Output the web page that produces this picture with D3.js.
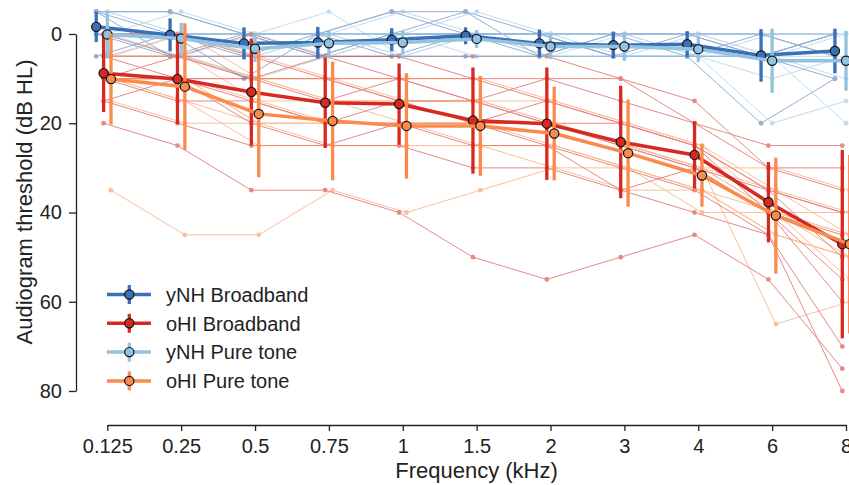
<!DOCTYPE html>
<html>
<head>
<meta charset="utf-8">
<script src="https://cdn.jsdelivr.net/npm/d3@7/dist/d3.min.js"></script>
<style>
  html, body { margin: 0; padding: 0; background: #fff; }
  svg { display: block; font-family: "Liberation Sans", Arial, Helvetica, sans-serif; }
</style>
</head>
<body>
<svg id="chart" width="849" height="485"></svg>
<script>
// Audiogram frequencies (kHz), shown as evenly spaced categories
const freqLabels = ["0.125", "0.25", "0.5", "0.75", "1", "1.5", "2", "3", "4", "6", "8"];
const yTicks = [0, 20, 40, 60, 80];

// Group means (dB HL)
const ynhBroadbandMean = [-1.6, 0.2, 2.1, 1.9, 1.3, 0.4, 2.1, 2.5, 2.3, 4.8, 3.8];
const ohiBroadbandMean = [8.8, 10.1, 13.0, 15.4, 15.7, 19.4, 20.1, 24.2, 27.1, 37.7, 47.1];
const ynhPureToneMean  = [0.1, 1.0, 3.3, 2.1, 1.9, 1.1, 2.8, 2.8, 3.4, 6.0, 6.0];
const ohiPureToneMean  = [10.1, 11.8, 17.9, 19.5, 20.6, 20.6, 22.3, 26.7, 31.7, 40.7, 47.1];

// Standard deviations (dB)
const ynhBroadbandSd = [3.4, 3.7, 3.6, 3.5, 2.6, 1.9, 3.1, 2.9, 2.9, 5.9, 5.0];
const ohiBroadbandSd = [8.7, 10.1, 12.0, 10.1, 9.1, 11.9, 12.6, 12.6, 7.5, 9.0, 21.1];
const ynhPureToneSd  = [5.0, 3.5, 3.0, 3.0, 2.6, 2.0, 2.8, 3.2, 2.9, 7.2, 6.7];
const ohiPureToneSd  = [10.2, 14.2, 14.2, 13.3, 11.8, 11.2, 10.5, 12.0, 7.0, 13.0, 20.0];

// Individual listeners' audiograms (dB HL)
const ynhBroadbandSubjects = [
  [-5, -5, 0, 0, -5, -5, 0, 0, 0, 5, 0],
  [0, 0, 5, 5, 0, 0, 5, 5, 5, 20, 10],
  [-5, 0, 0, 0, 0, 0, 0, 0, 0, 0, 0],
  [0, 5, 5, 0, 5, 0, 0, 5, 0, 0, 5],
  [-5, -5, 0, 5, 0, -5, 5, 0, 5, 5, 0],
  [5, 0, 10, 0, 0, 0, 0, 5, 5, 0, 5],
  [0, 0, 0, 5, 5, 5, 5, 0, 0, 5, 10],
  [-5, 5, 0, 0, -5, 0, 0, 5, 5, 5, 0]
];
const ynhPureToneSubjects = [
  [0, 0, 5, 5, 0, 0, 5, 5, 5, 20, 15],
  [-5, 0, 0, 0, 0, -5, 0, 0, 0, 5, 10],
  [5, 5, 5, 0, 5, 5, 5, 5, 5, 5, 5],
  [0, -5, 0, 5, 0, 0, 0, 0, 5, 0, 0],
  [-5, 0, 5, 0, 5, 0, 5, 0, 0, 5, 20],
  [0, 5, 10, 5, 0, 5, 5, 5, 5, 10, 5],
  [5, 0, 0, 0, -5, 0, 0, 5, 0, 0, 0],
  [0, 5, 0, -5, 5, 0, 0, 0, 5, 5, 0]
];
const ohiBroadbandSubjects = [
  [20, 25, 35, 35, 40, 50, 55, 50, 45, 55, 75],
  [15, 20, 25, 25, 25, 30, 30, 35, 40, 45, 80],
  [10, 10, 10, 15, 10, 15, 20, 25, 30, 40, 60],
  [5, 5, 10, 10, 10, 10, 15, 20, 25, 35, 40],
  [0, 0, 5, 5, 5, 10, 10, 15, 20, 30, 35],
  [10, 15, 15, 20, 20, 20, 15, 20, 25, 40, 55],
  [5, 5, 5, 10, 15, 15, 10, 10, 15, 30, 30],
  [15, 10, 20, 25, 20, 25, 25, 35, 30, 40, 45],
  [0, 5, 0, 5, 5, 5, 5, 10, 20, 25, 25],
  [10, 10, 15, 20, 15, 20, 25, 30, 35, 45, 70],
  [5, 10, 10, 10, 15, 20, 20, 20, 25, 35, 40],
  [10, 5, 10, 5, 10, 15, 20, 25, 30, 35, 50]
];
const ohiPureToneSubjects = [
  [35, 45, 45, 35, 40, 35, 30, 35, 35, 45, 50],
  [5, 5, 10, 15, 15, 15, 20, 25, 30, 40, 50],
  [10, 10, 15, 20, 20, 20, 20, 25, 30, 40, 45],
  [5, 5, 10, 10, 15, 15, 15, 20, 25, 35, 45],
  [0, 0, 5, 10, 10, 10, 15, 20, 25, 40, 55],
  [10, 10, 20, 20, 20, 25, 25, 30, 35, 45, 50],
  [5, 5, 15, 15, 20, 20, 20, 25, 30, 65, 60],
  [10, 10, 20, 25, 25, 25, 25, 30, 35, 40, 40],
  [5, 0, 10, 15, 15, 15, 20, 25, 30, 30, 35],
  [10, 15, 25, 25, 25, 25, 30, 30, 40, 40, 45],
  [10, 15, 20, 20, 20, 20, 20, 25, 30, 35, 40],
  [15, 20, 20, 20, 20, 20, 25, 30, 35, 45, 50]
];

const groups = [
  { name: "yNH Broadband", color: "#3a70b5", shift: -0.15, mean: ynhBroadbandMean, sd: ynhBroadbandSd, subjects: ynhBroadbandSubjects },
  { name: "oHI Broadband", color: "#d62a21", shift: -0.05, mean: ohiBroadbandMean, sd: ohiBroadbandSd, subjects: ohiBroadbandSubjects },
  { name: "yNH Pure tone", color: "#93c3e0", shift: 0.0,  mean: ynhPureToneMean,  sd: ynhPureToneSd,  subjects: ynhPureToneSubjects },
  { name: "oHI Pure tone", color: "#fb8a4d", shift: 0.05, mean: ohiPureToneMean,  sd: ohiPureToneSd,  subjects: ohiPureToneSubjects }
];

const svg = d3.select("#chart");

const x = d3.scalePoint().domain(freqLabels).range([107.3, 846]);
const y = d3.scaleLinear().domain([0, 80]).range([34, 391]);
const step = x.step();
const px = (g, i) => x(freqLabels[i]) + g.shift * step;

// Axes
const xAxis = svg.append("g")
  .attr("transform", "translate(0,425)")
  .call(d3.axisBottom(x).tickSizeInner(6).tickSizeOuter(0).tickPadding(8));
const yAxis = svg.append("g")
  .attr("transform", "translate(76,0)")
  .call(d3.axisLeft(y).tickValues(yTicks).tickSizeInner(7).tickSizeOuter(0).tickPadding(7));
[xAxis, yAxis].forEach(a => {
  a.selectAll("path.domain").attr("stroke", "#222").attr("stroke-width", 1.3);
  a.selectAll(".tick line").attr("stroke", "#222").attr("stroke-width", 1.3);
  a.selectAll(".tick text").attr("fill", "#222").style("font-size", "20px")
    .style("font-family", "'Liberation Sans', Arial, sans-serif");
});

svg.append("text")
  .attr("x", 476.5).attr("y", 478)
  .attr("text-anchor", "middle")
  .attr("fill", "#222")
  .style("font-size", "22px")
  .text("Frequency (kHz)");

svg.append("text")
  .attr("transform", "translate(32,202) rotate(-90)")
  .attr("text-anchor", "middle")
  .attr("fill", "#222")
  .style("font-size", "22px")
  .text("Audiogram threshold (dB HL)");

// Individual audiograms
const plot = svg.append("g");
groups.forEach(g => {
  const line = d3.line().x((d, i) => px(g, i)).y(d => y(d));
  const sg = plot.append("g").attr("opacity", 0.55);
  g.subjects.forEach(s => {
    sg.append("path").attr("d", line(s))
      .attr("fill", "none").attr("stroke", g.color).attr("stroke-width", 1);
    sg.selectAll(null).data(s).enter().append("circle")
      .attr("cx", (d, i) => px(g, i)).attr("cy", d => y(d))
      .attr("r", 2.4).attr("fill", g.color);
  });
});

// Group means with SD bars
groups.forEach(g => {
  const mg = plot.append("g");
  const line = d3.line().x((d, i) => px(g, i)).y(d => y(d));
  mg.selectAll(null).data(g.mean).enter().append("line")
    .attr("x1", (d, i) => px(g, i)).attr("x2", (d, i) => px(g, i))
    .attr("y1", (d, i) => y(d - g.sd[i])).attr("y2", (d, i) => y(d + g.sd[i]))
    .attr("stroke", g.color).attr("stroke-width", 3.3);
  mg.append("path").attr("d", line(g.mean))
    .attr("fill", "none").attr("stroke", g.color).attr("stroke-width", 3.5)
    .attr("stroke-linejoin", "round");
  mg.selectAll(null).data(g.mean).enter().append("circle")
    .attr("cx", (d, i) => px(g, i)).attr("cy", d => y(d))
    .attr("r", 4.6).attr("fill", g.color)
    .attr("stroke", "#111").attr("stroke-width", 1.2);
});

// Legend
const legend = svg.append("g");
groups.forEach((g, k) => {
  const cy = 294.5 + k * 28.8;
  const item = legend.append("g");
  item.append("line").attr("x1", 107).attr("x2", 151).attr("y1", cy).attr("y2", cy)
    .attr("stroke", g.color).attr("stroke-width", 3.5);
  item.append("line").attr("x1", 129.3).attr("x2", 129.3).attr("y1", cy - 9.5).attr("y2", cy + 9.5)
    .attr("stroke", g.color).attr("stroke-width", 3.3);
  item.append("circle").attr("cx", 129.3).attr("cy", cy).attr("r", 4.6)
    .attr("fill", g.color).attr("stroke", "#111").attr("stroke-width", 1.2);
  item.append("text").attr("x", 166).attr("y", cy).attr("dy", "0.36em")
    .attr("fill", "#222").style("font-size", "20px").text(g.name);
});
</script>
</body>
</html>
